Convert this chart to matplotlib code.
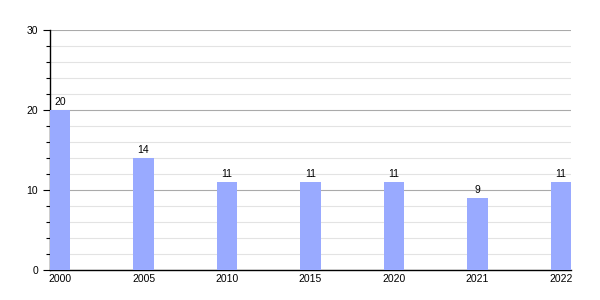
import matplotlib
matplotlib.use("Agg")
import matplotlib.pyplot as plt
from matplotlib.ticker import MultipleLocator

plt.rcParams["font.family"] = ["Liberation Sans", "DejaVu Sans"]

years = ["2000", "2005", "2010", "2015", "2020", "2021", "2022"]
values = [20, 14, 11, 11, 11, 9, 11]

fig = plt.figure(figsize=(6, 3), dpi=100)
ax = fig.add_axes([50/600, 30/300, 521/600, 240/300])
x = list(range(len(years)))
ax.bar(x, values, width=0.24, color="#99aaff", zorder=3)
for xi, v in zip(x, values):
    ax.text(xi, v + 0.4, str(v), ha="center", va="bottom", fontsize=7.5, zorder=4)
ax.set_xlim(-0.12, len(years) - 1 + 0.12)
ax.set_ylim(0, 30)
ax.set_xticks(x)
ax.set_xticklabels(years, fontsize=7.5)
ax.yaxis.set_major_locator(MultipleLocator(10))
ax.yaxis.set_minor_locator(MultipleLocator(2))
ax.tick_params(axis="y", which="major", labelsize=7.5, length=5, width=0.8)
ax.tick_params(axis="y", which="minor", length=3, width=0.8)
ax.tick_params(axis="x", length=0, pad=3)
ax.grid(axis="y", which="major", color="#aaaaaa", linewidth=0.8, zorder=0)
ax.grid(axis="y", which="minor", color="#e3e3e3", linewidth=0.8, zorder=0)
for s in ["top", "right"]:
    ax.spines[s].set_visible(False)
ax.spines["left"].set_linewidth(1)
ax.spines["bottom"].set_linewidth(1)
fig.savefig("out.png", dpi=100)
